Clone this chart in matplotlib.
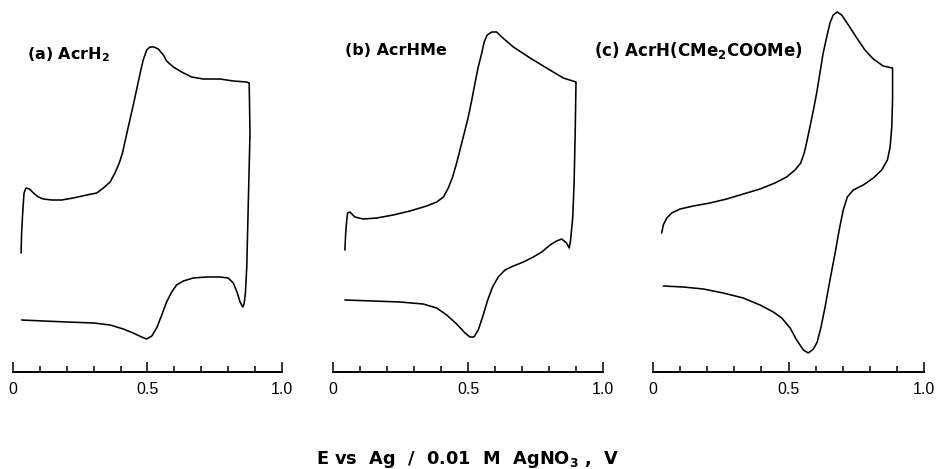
import matplotlib
matplotlib.use("Agg")
import matplotlib.pyplot as plt
from matplotlib.ticker import MultipleLocator

plt.rcParams['font.family'] = ['DejaVu Sans']
plt.rcParams['mathtext.fontset'] = 'dejavusans'

# ---- data: potential E (V vs Ag/0.01 M AgNO3) and current (arbitrary units) ----
panel_labels = [r"(a) AcrH$_\mathbf{2}$", "(b) AcrHMe", r"(c) AcrH(CMe$_\mathbf{2}$COOMe)"]

# (a) AcrH2
a_E = [0.030, 0.032, 0.036, 0.041, 0.048, 0.061, 0.076, 0.094, 0.113, 0.144, 0.181, 0.224,
       0.274, 0.311, 0.336, 0.361, 0.379, 0.395, 0.407, 0.416, 0.426, 0.437, 0.448, 0.460,
       0.472, 0.484, 0.497, 0.509, 0.524, 0.540, 0.559, 0.571, 0.596, 0.627, 0.664, 0.707,
       0.770, 0.819, 0.869, 0.878, 0.881, 0.875, 0.869, 0.864, 0.859, 0.854, 0.844, 0.834,
       0.819, 0.800, 0.770, 0.720, 0.670, 0.633, 0.608, 0.590, 0.571, 0.553, 0.534, 0.516,
       0.497, 0.478, 0.447, 0.410, 0.361, 0.299, 0.200, 0.113, 0.032]
a_I = [119, 139, 159, 179, 184, 183, 179, 175, 173, 172, 172, 174,
       177, 179, 184, 190, 199, 209, 219, 230, 242, 255, 268, 283,
       298, 312, 322, 325, 325, 323, 317, 311, 305, 300, 295, 293,
       293, 291, 290, 289, 239, 172, 105, 79, 68, 65, 70, 79,
       89, 94, 95, 95, 94, 91, 87, 80, 70, 57, 44, 36,
       33, 35, 39, 43, 47, 49, 50, 51, 52]

# (b) AcrHMe
b_E = [0.044, 0.047, 0.051, 0.054, 0.063, 0.081, 0.112, 0.162, 0.223, 0.285, 0.347, 0.384,
       0.409, 0.427, 0.443, 0.458, 0.473, 0.489, 0.501, 0.514, 0.526, 0.538, 0.551, 0.560,
       0.571, 0.588, 0.606, 0.625, 0.668, 0.730, 0.791, 0.853, 0.900, 0.897, 0.893, 0.888,
       0.880, 0.875, 0.865, 0.847, 0.828, 0.804, 0.773, 0.742, 0.705, 0.668, 0.637, 0.612,
       0.591, 0.573, 0.554, 0.538, 0.522, 0.507, 0.489, 0.458, 0.421, 0.384, 0.334, 0.248,
       0.149, 0.044]
b_I = [122, 139, 152, 159, 160, 155, 153, 154, 157, 161, 166, 170,
       175, 184, 195, 209, 225, 242, 255, 272, 289, 305, 319, 330,
       337, 340, 340, 335, 325, 314, 304, 294, 290, 239, 189, 155,
       132, 124, 129, 133, 131, 127, 120, 115, 110, 106, 102, 95,
       85, 72, 55, 42, 35, 35, 39, 48, 57, 64, 68, 70,
       71, 72]

# (c) AcrH(CMe2COOMe)
c_E = [0.032, 0.038, 0.051, 0.069, 0.100, 0.149, 0.210, 0.272, 0.333, 0.395, 0.450, 0.493,
       0.524, 0.545, 0.558, 0.569, 0.579, 0.592, 0.604, 0.616, 0.628, 0.641, 0.653, 0.665,
       0.680, 0.696, 0.721, 0.752, 0.782, 0.813, 0.849, 0.884, 0.884, 0.881, 0.875, 0.865,
       0.844, 0.813, 0.776, 0.739, 0.717, 0.702, 0.687, 0.672, 0.653, 0.635, 0.620, 0.606,
       0.592, 0.573, 0.555, 0.530, 0.506, 0.475, 0.444, 0.395, 0.333, 0.259, 0.186, 0.112,
       0.038]
c_I = [139, 147, 154, 159, 163, 166, 169, 173, 178, 183, 189, 195,
       202, 209, 219, 232, 245, 262, 279, 299, 319, 335, 349, 357,
       360, 357, 347, 334, 322, 313, 306, 304, 272, 245, 225, 212,
       202, 194, 187, 182, 175, 162, 142, 119, 92, 65, 45, 30,
       23, 19, 22, 32, 44, 54, 60, 67, 74, 79, 83, 85,
       86]

series_E = [a_E, b_E, c_E]
series_I = [a_I, b_I, c_I]

tick_values = [0, 0.5, 1.0]
tick_labels = ["0", "0.5", "1.0"]
xlabel = r"E vs  Ag  /  0.01  M  AgNO$_\mathbf{3}$ ,  V"

# ---- layout (pixels) ----
W, H = 937, 469
axis_x0 = [13, 333, 653]
axis_x1 = [282, 603, 924]
baseline_py = 372
ymax = 372
label_pos = [(27, 59), (345, 55), (594, 56)]
label_sizes = [11.5, 11.5, 12.0]

fig = plt.figure(figsize=(W / 100, H / 100), dpi=100)

for i in range(3):
    x0, x1 = axis_x0[i], axis_x1[i]
    ax = fig.add_axes([x0 / W, (H - baseline_py) / H, (x1 - x0) / W, baseline_py / H])
    ax.plot(series_E[i], series_I[i], color='black', lw=1.15,
            solid_joinstyle='round', solid_capstyle='round')
    ax.set_xlim(0, 1.0)
    ax.set_ylim(0, ymax)
    for s in ['top', 'right', 'left']:
        ax.spines[s].set_visible(False)
    ax.spines['bottom'].set_linewidth(1.4)
    ax.set_yticks([])
    ax.set_xticks(tick_values)
    ax.set_xticklabels(tick_labels, fontfamily='Liberation Sans')
    ax.xaxis.set_minor_locator(MultipleLocator(0.1))
    ax.tick_params(axis='x', which='major', direction='in', length=7.5, width=1.1,
                   pad=7, labelsize=11.5)
    ax.tick_params(axis='x', which='minor', direction='in', length=4.5, width=1.1)
    ax.patch.set_alpha(0)
    fig.text(label_pos[i][0] / W, 1 - label_pos[i][1] / H, panel_labels[i],
             fontsize=label_sizes[i], fontweight='bold', va='baseline', ha='left')

fig.text(468 / W, 1 - 464 / H, xlabel, fontsize=12.8, fontweight='bold',
         ha='center', va='baseline')

fig.savefig("out.png", dpi=100)
